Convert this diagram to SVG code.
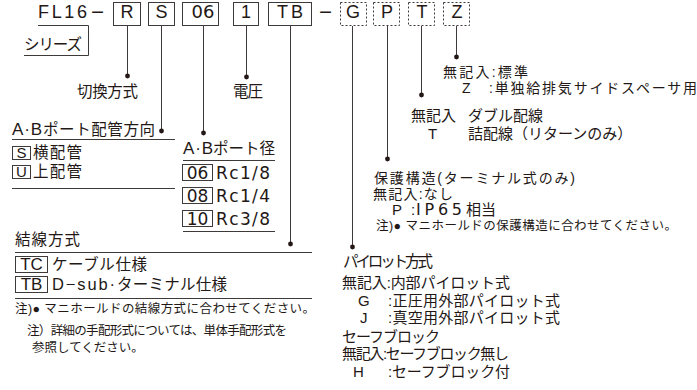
<svg xmlns="http://www.w3.org/2000/svg" width="697" height="390" viewBox="0 0 697 390">
<style>
text{font-family:"Liberation Sans","Noto Sans CJK JP",sans-serif;fill:#231815}
.dv{font-family:"DejaVu Sans","Noto Sans CJK JP",sans-serif}
.big{font-size:18px}
.lb{font-size:15.5px}
.md{font-size:15px}
.rs{font-size:14px}
.sm{font-size:12.5px}
.bx{fill:none;stroke:#3e3a39;stroke-width:1}
.dbx{fill:none;stroke:#3e3a39;stroke-width:1;stroke-dasharray:2,2}
.ln{stroke:#3e3a39;stroke-width:1;fill:none}
.dot{fill:#231815}
</style>
<rect width="697" height="390" fill="#fff"/>
<g id="code">
<text class="big" x="38" y="18" textLength="49" lengthAdjust="spacing">FL16</text>
<text class="big" x="91" y="18" textLength="13" lengthAdjust="spacingAndGlyphs">−</text>
<rect class="bx" x="113.5" y="2.5" width="27" height="23"/>
<text class="big" x="127" y="18" text-anchor="middle">R</text>
<rect class="bx" x="148.5" y="2.5" width="26" height="23"/>
<text class="big" x="161.5" y="18" text-anchor="middle">S</text>
<rect class="bx" x="182.5" y="2.5" width="36" height="23"/>
<text class="big dv" x="203" y="18" text-anchor="middle">06</text>
<rect class="bx" x="233.5" y="2.5" width="25" height="23"/>
<text class="big" x="246" y="18" text-anchor="middle">1</text>
<rect class="bx" x="268.5" y="2.5" width="43" height="23"/>
<text class="big" x="277" y="18" textLength="26" lengthAdjust="spacing">TB</text>
<text class="big" x="319" y="18" textLength="13" lengthAdjust="spacingAndGlyphs">−</text>
<rect class="dbx" x="340.5" y="2.5" width="26" height="23"/>
<text class="big" x="353" y="18" text-anchor="middle">G</text>
<rect class="dbx" x="373.5" y="2.5" width="26" height="23"/>
<text class="big" x="387" y="18" text-anchor="middle">P</text>
<rect class="dbx" x="408.5" y="2.5" width="26" height="23"/>
<text class="big" x="422" y="18" text-anchor="middle">T</text>
<rect class="dbx" x="443.5" y="2.5" width="26" height="23"/>
<text class="big" x="457" y="18" text-anchor="middle">Z</text>
</g>
<g id="series">
<polyline class="ln" points="38,25.5 88.5,25.5 88.5,55.5 24,55.5"/>
<text class="lb" x="24" y="50" textLength="58" lengthAdjust="spacing">シリーズ</text>
</g>
<g id="connectors">
<line class="ln" x1="127.5" y1="26" x2="127.5" y2="76"/>
<line class="ln" x1="161.5" y1="26" x2="161.5" y2="131"/>
<line class="ln" x1="203.5" y1="26" x2="203.5" y2="133"/>
<line class="ln" x1="246.5" y1="26" x2="246.5" y2="77"/>
<line class="ln" x1="290.5" y1="26" x2="290.5" y2="244"/>
<line class="ln" x1="352.5" y1="26" x2="352.5" y2="247"/>
<line class="ln" x1="387.5" y1="26" x2="387.5" y2="159"/>
<line class="ln" x1="421.5" y1="26" x2="421.5" y2="95"/>
<line class="ln" x1="456.5" y1="26" x2="456.5" y2="57"/>
<circle class="dot" cx="127.5" cy="76" r="2.4"/>
<circle class="dot" cx="161.5" cy="131" r="2.4"/>
<circle class="dot" cx="203.5" cy="133" r="2.4"/>
<circle class="dot" cx="246.5" cy="77" r="2.4"/>
<circle class="dot" cx="290.5" cy="244" r="2.4"/>
<circle class="dot" cx="352.5" cy="247" r="2.4"/>
<circle class="dot" cx="387.5" cy="159" r="2.4"/>
<circle class="dot" cx="421.5" cy="95" r="2.4"/>
<circle class="dot" cx="456.5" cy="57" r="2.4"/>
</g>
<g id="switching">
<text class="lb" x="77" y="97" textLength="61" lengthAdjust="spacing">切換方式</text>
</g>
<g id="voltage">
<text class="lb" x="233" y="97" textLength="30" lengthAdjust="spacing">電圧</text>
</g>
<g id="port-direction">
<text x="12" y="135" font-size="17" textLength="30" lengthAdjust="spacing">A·B</text>
<text class="lb" x="43" y="135" textLength="112" lengthAdjust="spacing">ポート配管方向</text>
<line class="ln" x1="12" y1="139.5" x2="175" y2="139.5"/>
<rect class="bx" x="12.5" y="146.5" width="18" height="13"/>
<text class="md" x="21.5" y="158" text-anchor="middle">S</text>
<text class="lb" x="33" y="158" textLength="49" lengthAdjust="spacing">横配管</text>
<rect class="bx" x="12.5" y="165.5" width="18" height="13"/>
<text class="md" x="21.5" y="177" text-anchor="middle">U</text>
<text class="lb" x="33" y="177" textLength="49" lengthAdjust="spacing">上配管</text>
<line class="ln" x1="12" y1="188.5" x2="175" y2="188.5"/>
</g>
<g id="port-size">
<text x="183" y="154" font-size="17" textLength="30" lengthAdjust="spacing">A·B</text>
<text class="lb" x="213" y="154" textLength="62" lengthAdjust="spacing">ポート径</text>
<line class="ln" x1="183" y1="160.5" x2="275" y2="160.5"/>
<rect class="bx" x="182.5" y="164.5" width="30" height="16"/>
<text class="dv" x="197.5" y="179" font-size="17" text-anchor="middle">06</text>
<text class="dv" x="216" y="179" font-size="17" textLength="54" lengthAdjust="spacing">Rc1/8</text>
<rect class="bx" x="182.5" y="187.5" width="30" height="16"/>
<text class="dv" x="197.5" y="202" font-size="17" text-anchor="middle">08</text>
<text class="dv" x="216" y="202" font-size="17" textLength="54" lengthAdjust="spacing">Rc1/4</text>
<rect class="bx" x="182.5" y="210.5" width="30" height="16"/>
<text class="dv" x="197.5" y="225" font-size="17" text-anchor="middle">10</text>
<text class="dv" x="216" y="225" font-size="17" textLength="54" lengthAdjust="spacing">Rc3/8</text>
<line class="ln" x1="183" y1="231.5" x2="275" y2="231.5"/>
</g>
<g id="wiring">
<text class="lb" x="15" y="245" textLength="65" lengthAdjust="spacing">結線方式</text>
<line class="ln" x1="15" y1="252.5" x2="312" y2="252.5"/>
<rect class="bx" x="15.5" y="256.5" width="32" height="16"/>
<text x="31.5" y="270" font-size="17" text-anchor="middle">TC</text>
<text class="lb" x="52" y="270" textLength="95" lengthAdjust="spacing">ケーブル仕様</text>
<rect class="bx" x="15.5" y="276.5" width="32" height="16"/>
<text x="31.5" y="290" font-size="17" text-anchor="middle">TB</text>
<text x="52" y="290" font-size="16.5" textLength="63" lengthAdjust="spacing">D−sub·</text>
<text class="lb" x="117" y="290" textLength="110" lengthAdjust="spacing">ターミナル仕様</text>
<line class="ln" x1="15" y1="298.5" x2="312" y2="298.5"/>
<text class="sm" x="15" y="313" textLength="300" lengthAdjust="spacing">注)● マニホールドの結線方式に合わせてください。</text>
</g>
<g id="note">
<text class="sm" x="27" y="335" textLength="260" lengthAdjust="spacing">注）詳細の手配形式については、単体手配形式を</text>
<text class="sm" x="32" y="352">参照してください。</text>
</g>
<g id="spacer">
<text class="rs" x="443" y="76.5" textLength="85" lengthAdjust="spacing">無記入:標準</text>
<text class="rs" x="462" y="92.5">Z</text>
<text class="rs" x="489" y="92.5" textLength="208" lengthAdjust="spacing">:単独給排気サイドスペーサ用</text>
</g>
<g id="return">
<text class="md" x="411" y="121">無記入</text>
<text class="md" x="468" y="121">ダブル配線</text>
<text class="md" x="428" y="139">T</text>
<text class="md" x="468" y="139">詰配線（リターンのみ）</text>
</g>
<g id="protection">
<text class="rs" x="374" y="182.5" textLength="201" lengthAdjust="spacing">保護構造(ターミナル式のみ)</text>
<text class="rs" x="373" y="198.5" textLength="80" lengthAdjust="spacing">無記入:なし</text>
<text class="md" x="392" y="214.5">P</text>
<text class="md" x="411" y="214.5">:</text>
<text class="dv" x="416" y="214.5" font-size="16" textLength="46" lengthAdjust="spacing">IP65</text>
<text class="md" x="466" y="214.5">相当</text>
<text class="sm" x="376" y="229.5" textLength="301" lengthAdjust="spacing">注)● マニホールドの保護構造に合わせてください。</text>
</g>
<g id="pilot">
<text class="lb" x="343" y="267" textLength="90" lengthAdjust="spacing">パイロット方式</text>
<text class="md" x="342" y="288" textLength="168" lengthAdjust="spacing">無記入:内部パイロット式</text>
<text class="md" x="358" y="306">G</text>
<text class="md" x="388" y="306" textLength="172" lengthAdjust="spacing">:正圧用外部パイロット式</text>
<text class="md" x="360" y="323">J</text>
<text class="md" x="388" y="323" textLength="172" lengthAdjust="spacing">:真空用外部パイロット式</text>
</g>
<g id="safety">
<text class="md" x="342" y="342" textLength="98" lengthAdjust="spacing">セーフブロック</text>
<text class="md" x="342" y="359" textLength="167" lengthAdjust="spacing">無記入:セーフブロック無し</text>
<text class="md" x="353" y="377">H</text>
<text class="md" x="388" y="377" textLength="122" lengthAdjust="spacing">:セーフブロック付</text>
</g>
</svg>
